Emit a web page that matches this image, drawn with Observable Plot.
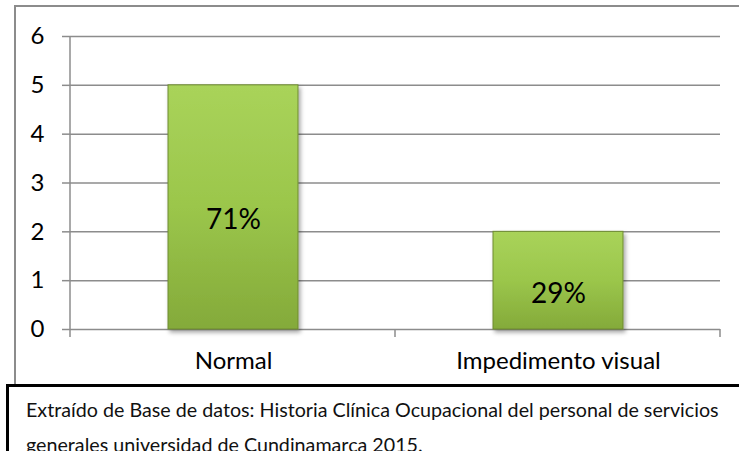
<!DOCTYPE html>
<html><head><meta charset="utf-8">
<script src="https://cdn.jsdelivr.net/npm/d3@7"></script>
<script src="https://cdn.jsdelivr.net/npm/@observablehq/plot@0.6"></script>
<style>
html,body{margin:0;padding:0;background:#fff;}
#wrap{position:relative;width:739px;height:451px;overflow:hidden;font-family:Lato,"Open Sans",sans-serif;}
#frame{position:absolute;left:14px;top:5px;width:800px;height:500px;border:2px solid #8c8c8c;box-sizing:border-box;}
#chart{position:absolute;left:0;top:0;}
#caption{position:absolute;left:6px;top:384px;width:800px;height:120px;border:3px solid #000;background:#fff;box-sizing:border-box;padding:5px 0 0 17px;font-size:19.7px;line-height:35px;color:#111;}
#caption p{margin:0;white-space:nowrap;}
</style>
</head><body>
<div id="wrap">
  <div id="frame"></div>
  <div id="chart"></div>
  <div id="caption"></div>
</div>
<script>
const categories = ["Normal", "Impedimento visual"];
const counts = [5, 2];
const percentLabels = ["71%", "29%"];
const yTicks = [0, 1, 2, 3, 4, 5, 6];
const captionLines = [
  "Extraído de Base de datos: Historia Clínica Ocupacional del personal de servicios",
  "generales universidad de Cundinamarca 2015."
];

const data = categories.map((c, i) => ({category: c, count: counts[i], pct: percentLabels[i]}));
const axisColor = "#8c8c8c";

const defsMark = () => {
  const g = d3.create("svg:g");
  const defs = g.append("defs");
  const grad = defs.append("linearGradient").attr("id", "barGrad")
    .attr("x1", 0).attr("y1", 0).attr("x2", 0).attr("y2", 1);
  grad.append("stop").attr("offset", "0%").attr("stop-color", "#a9d35a");
  grad.append("stop").attr("offset", "50%").attr("stop-color", "#9bc64b");
  grad.append("stop").attr("offset", "100%").attr("stop-color", "#84aa3a");
  const f = defs.append("filter").attr("id", "barShadow").attr("x", "-20%").attr("y", "-20%").attr("width", "140%").attr("height", "140%");
  f.append("feDropShadow").attr("dx", 2).attr("dy", 3).attr("stdDeviation", 2).attr("flood-color", "#000").attr("flood-opacity", 0.35);
  return g.node();
};

const axisLines = (index, scales, values, dims) => {
  const g = d3.create("svg:g").attr("stroke", axisColor).attr("stroke-width", 1.5);
  const x0 = dims.marginLeft, x1 = dims.width - dims.marginRight;
  const yb = scales.y(0), yt = scales.y(d3.max(yTicks));
  g.append("line").attr("x1", x0).attr("x2", x0).attr("y1", yt).attr("y2", yb + 8);
  const n = categories.length;
  for (let i = 1; i <= n; i++) {
    const xb = x0 + i * (x1 - x0) / n;
    g.append("line").attr("x1", xb).attr("x2", xb).attr("y1", yb).attr("y2", yb + 8);
  }
  return g.node();
};

const chart = Plot.plot({
  width: 739,
  height: 384,
  marginLeft: 70,
  marginRight: 19,
  marginTop: 36,
  marginBottom: 55,
  style: {fontFamily: "Lato, 'Open Sans', sans-serif", fontSize: "24px", color: "#000", background: "transparent"},
  x: {domain: categories, paddingInner: 0.6, paddingOuter: 0.3, label: null},
  y: {domain: [0, d3.max(yTicks)], label: null},
  marks: [
    defsMark,
    Plot.gridY(yTicks, {stroke: axisColor, strokeOpacity: 1, strokeWidth: 1.5}),
    Plot.axisY(yTicks, {tickSize: 8, tickPadding: 18, stroke: axisColor, strokeWidth: 1.5, fill: "#000", fontSize: 24, label: null}),
    axisLines,
    Plot.barY(data, {x: "category", y: "count", fill: "url(#barGrad)", stroke: "#6e8b30", strokeWidth: 1}),
    Plot.text(data, {x: "category", y: d => d.count / 2, text: "pct", dy: 13, fontSize: 28, fill: "#000"}),
    Plot.axisX({tickSize: 0, tickPadding: 22, fontSize: 24, fill: "#000", label: null})
  ]
});
d3.select(chart).selectAll('g[aria-label="bar"]').attr("filter", "url(#barShadow)");
document.getElementById("chart").appendChild(chart);

const cap = d3.select("#caption");
captionLines.forEach(t => cap.append("p").text(t));
</script>
</body></html>
